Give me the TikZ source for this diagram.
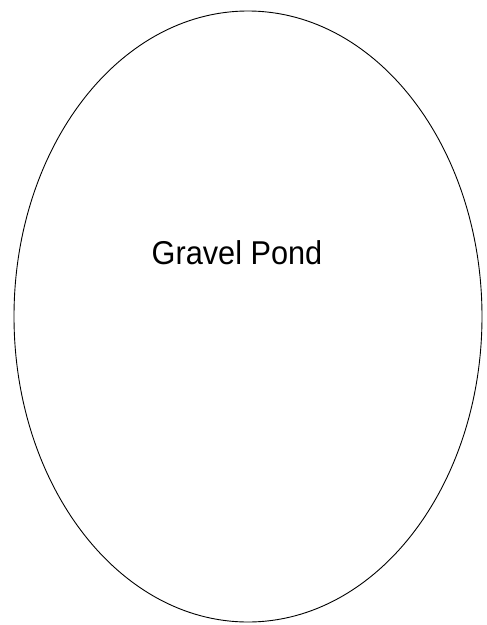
\documentclass[tikz,border=0pt]{standalone}
\usepackage{fontspec}
\setmainfont{Liberation Sans}
\begin{document}
\begin{tikzpicture}[x=1pt,y=-1pt,
  pond/.style={draw=black,line width=0.9pt},
  label/.style={font=\fontsize{33}{35}\selectfont,inner sep=0pt,xscale=0.93}]
\useasboundingbox (0,0) rectangle (487,625);
\fill[white] (0,0) rectangle (487,625);
\draw[pond] (248,316.5) ellipse [x radius=234, y radius=305.5];
\node[label,anchor=base] (t) at (237,264.5) {Gravel Pond};
\end{tikzpicture}
\end{document}
